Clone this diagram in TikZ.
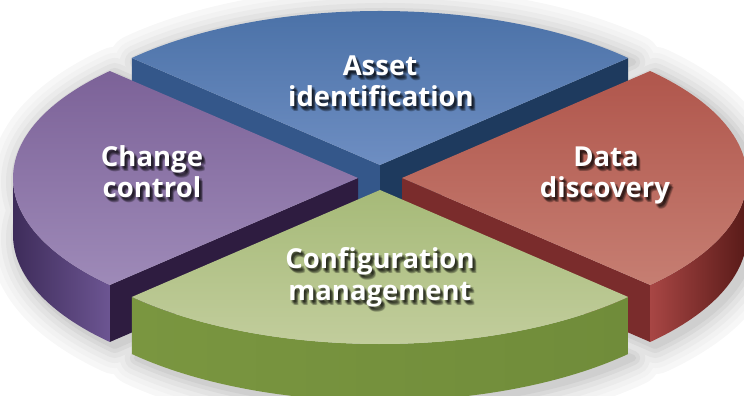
\documentclass[tikz,border=0pt]{standalone}
\usepackage{fontspec}
\setmainfont{Open Sans}
\usetikzlibrary{calc}
\definecolor{bluetopA}{HTML}{4970A6}
\definecolor{bluetopB}{HTML}{6E8EC2}
\definecolor{bluecutL}{HTML}{34578A}
\definecolor{bluecutR}{HTML}{1E3A5E}
\definecolor{purtopA}{HTML}{7C6298}
\definecolor{purtopB}{HTML}{9E8AB8}
\definecolor{purcut}{HTML}{2E1C40}
\definecolor{purwallL}{HTML}{3E2C5A}
\definecolor{purwallR}{HTML}{6C5592}
\definecolor{redtopA}{HTML}{B0564C}
\definecolor{redtopB}{HTML}{C67E72}
\definecolor{redcut}{HTML}{7A2C2C}
\definecolor{redwallL}{HTML}{A84644}
\definecolor{redwallR}{HTML}{581A18}
\definecolor{grntopA}{HTML}{A6BA78}
\definecolor{grntopB}{HTML}{C3CE9E}
\definecolor{grnwallL}{HTML}{7A9640}
\definecolor{grnwallM}{HTML}{8CAA4C}
\definecolor{grnwallR}{HTML}{708C3A}
\def\ra{345}\def\rb{154}\def\hh{57}
\newcommand\psect[4]{(#1,#2) -- ({#1+\ra*cos(#3)},{#2+\rb*sin(#3)}) arc[start angle=#3,end angle=#4,x radius=\ra,y radius=\rb] -- cycle}
\newcommand\pwall[4]{({#1+\ra*cos(#3)},{#2+\rb*sin(#3)}) arc[start angle=#3,end angle=#4,x radius=\ra,y radius=\rb] -- ++(0,-\hh) arc[start angle=#4,end angle=#3,x radius=\ra,y radius=\rb] -- cycle}
\newcommand\pcut[3]{(#1,#2) -- ({#1+\ra*cos(#3)},{#2+\rb*sin(#3)}) -- ++(0,-\hh) -- (#1,{#2-\hh}) -- cycle}
\tikzset{
  lbl/.style={text=white, font=\fontsize{27.5}{30}\selectfont\bfseries, anchor=base, inner sep=0pt},
  lblsh/.style={lbl, text=black, opacity=0.16}
}
\newcommand\lbl[4]{%
  \foreach \dx/\dy [count=\k] in {1.5/-2, 3/-2, 2/-3.5, 3.5/-3.5, 2.5/-2.5, 4/-4.5, 1/-3, 3/-4.5}
    {\node[lblsh] (#1s\k) at ({#2+\dx},{#3+\dy}) {#4};}
  \node[lbl] (#1) at (#2,#3) {#4};}
\begin{document}
\begin{tikzpicture}[x=1pt,y=1pt]
\useasboundingbox (0,0) rectangle (744,396);
% soft drop shadow
\foreach \w/\c in {56/3, 44/5, 34/8, 24/11, 14/15, 6/19} {
  \begin{scope}[shift={(5,-4)}, line join=round]
    \filldraw[black!\c, line width=\w] \psect{380}{231}{44}{136} \psect{380}{174}{44}{136};
    \filldraw[black!\c, line width=\w] \psect{358}{218}{136}{224} \psect{358}{161}{136}{224};
    \filldraw[black!\c, line width=\w] \psect{402}{218}{-44}{44} \psect{402}{161}{-44}{44};
    \filldraw[black!\c, line width=\w] \psect{380}{206}{224}{316} \psect{380}{149}{224}{316};
  \end{scope}
}
% blue slice (back)
\fill[bluecutL] \pcut{380}{231}{136};
\fill[bluecutR] \pcut{380}{231}{44};
\shade[top color=bluetopA, bottom color=bluetopB] \psect{380}{231}{44}{136};
% purple slice
\fill[purcut] \pcut{358}{218}{224};
\shade[left color=purwallL, right color=purwallR] \pwall{358}{218}{180}{224};
\shade[top color=purtopA, bottom color=purtopB] \psect{358}{218}{136}{224};
% red slice
\fill[redcut] \pcut{402}{218}{316};
\shade[left color=redwallL, right color=redwallR] \pwall{402}{218}{316}{360};
\shade[top color=redtopA, bottom color=redtopB] \psect{402}{218}{-44}{44};
% green slice (front)
\shade[left color=grnwallL, middle color=grnwallM, right color=grnwallR] \pwall{380}{206}{224}{316};
\shade[top color=grntopA, bottom color=grntopB] \psect{380}{206}{224}{316};
% labels
\lbl{asset}{380}{320}{Asset}
\lbl{ident}{381}{289}{identification}
\lbl{change}{152}{229}{Change}
\lbl{control}{152}{198}{control}
\lbl{data}{606}{229}{Data}
\lbl{disc}{605}{198}{discovery}
\lbl{config}{380}{127}{Configuration}
\lbl{manage}{380}{95}{management}
\end{tikzpicture}
\end{document}
